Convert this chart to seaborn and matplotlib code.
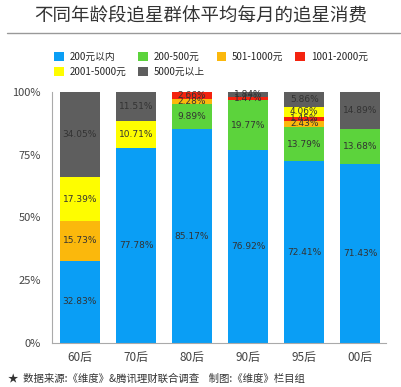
import numpy as np
import matplotlib
matplotlib.use('Agg')
import matplotlib.pyplot as plt
import seaborn as sns
from matplotlib.lines import Line2D
from matplotlib.patches import Patch

sns.set_style('white')
plt.rcParams['font.family'] = ['Noto Sans CJK SC', 'DejaVu Sans']

# Data
groups = ['60后', '70后', '80后', '90后', '95后', '00后']
levels = ['200元以内', '200-500元', '501-1000元', '1001-2000元', '2001-5000元', '5000元以上']
colors = ['#0a9ef5', '#5cd33c', '#fbb80c', '#f4230f', '#fefd00', '#5e5e5e']
share_200 = [32.83, 77.78, 85.17, 76.92, 72.41, 71.43]
share_500 = [0, 0, 9.89, 19.77, 13.79, 13.68]
share_1000 = [15.73, 0, 2.28, 0, 2.43, 0]
share_2000 = [0, 0, 2.66, 1.47, 1.45, 0]
share_5000 = [17.39, 10.71, 0, 0, 4.06, 0]
share_top = [34.05, 11.51, 0, 1.84, 5.86, 14.89]
series = [share_200, share_500, share_1000, share_2000, share_5000, share_top]
yticks = [0, 25, 50, 75, 100]

fig = plt.figure(figsize=(4.02, 3.87), dpi=100)
ax = fig.add_axes([0.129, 0.114, 0.83, 0.648])

bottom = np.zeros(len(groups))
for vals, col in zip(series, colors):
    vals = np.array(vals)
    sns.barplot(x=groups, y=vals, bottom=bottom, color=col, width=0.71,
                saturation=1, ax=ax, linewidth=0)
    for i, v in enumerate(vals):
        if v > 0:
            ax.text(i, bottom[i] + v / 2, f'{v:.2f}%', ha='center', va='center',
                    fontsize=6.5, color='#333333', family='DejaVu Sans')
    bottom = bottom + vals

ax.set_xlim(-0.5, 5.45)
ax.set_ylim(0, 100)
ax.set_yticks(yticks)
ax.set_yticklabels([f'{t}%' for t in yticks], fontsize=8, color='#444444')
ax.tick_params(axis='x', labelsize=8.5, colors='#444444', length=0, pad=6)
ax.tick_params(axis='y', length=0, pad=8)
for s in ['top', 'right']:
    ax.spines[s].set_visible(False)
for s in ['left', 'bottom']:
    ax.spines[s].set_color('#aaaaaa')
    ax.spines[s].set_linewidth(0.8)
ax.set_xlabel('')
ax.set_ylabel('')

fig.text(0.5, 0.958, '不同年龄段追星群体平均每月的追星消费', ha='center', va='center',
         fontsize=13.3, color='#333333')
fig.add_artist(Line2D([0.018, 0.995], [0.915, 0.915], color='#999999', linewidth=1))

# legend filled row by row
order = [0, 4, 1, 5, 2, 3]
handles = [Patch(facecolor=colors[k], edgecolor='none') for k in order]
labels = [levels[k] for k in order]
fig.legend(handles, labels, loc='center left', bbox_to_anchor=(0.113, 0.834), ncol=4,
           frameon=False, fontsize=7, handlelength=1.0, handleheight=1.0,
           handletextpad=0.6, columnspacing=1.2, labelspacing=0.5)

fig.text(0.02, 0.022, '★  数据来源:《维度》&腾讯理财联合调查    制图:《维度》栏目组',
         ha='left', va='center', fontsize=7.5, color='#333333')

fig.savefig('out.png', dpi=100, facecolor='white')
